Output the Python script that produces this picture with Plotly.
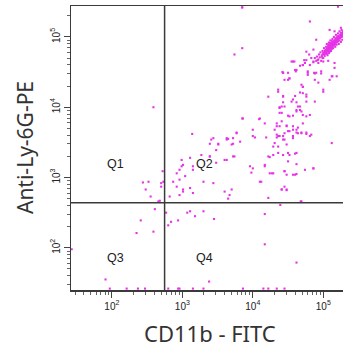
import numpy as np
import plotly.graph_objects as go

# Event positions (log10 of fluorescence intensity)
cluster_x = [4.86,4.88,4.90,4.91,4.93,4.94,4.95,4.96,4.97,4.98,4.99,5.00,5.00,5.01,5.02,5.02,5.03,5.04,5.04,5.05,
             5.05,5.06,5.06,5.07,5.07,5.08,5.08,5.09,5.09,5.10,5.10,5.11,5.11,5.12,5.12,5.13,5.13,5.14,5.14,5.15,
             5.15,5.16,5.16,5.17,5.17,5.18,5.18,5.19,5.19,5.20,5.20,5.21,5.21,5.22,5.22,5.23,5.23,5.24,5.24,5.25,
             5.25,5.26,5.26,5.27,5.27,5.28,5.28,5.08,5.10,5.12,5.06,5.14,5.11,5.09,5.13,5.16,5.07,5.15,5.18,5.03,
             5.05,5.19,5.21,5.17,5.12,5.10,5.08,
             5.02,5.04,5.06,5.08,5.10,5.12,5.14,5.16,5.18,5.20,5.22,5.24,5.26,5.00,5.03,5.07,5.11,5.15,5.19,5.23,
             5.27,5.05,5.09,5.13,5.17,5.21,5.25,4.98,5.01,5.09,5.13,5.17,5.21,5.25]
cluster_y = [4.64,4.70,4.66,4.72,4.68,4.75,4.71,4.78,4.66,4.74,4.80,4.70,4.77,4.84,4.73,4.80,4.76,4.86,4.82,4.78,
             4.90,4.74,4.84,4.80,4.88,4.92,4.77,4.85,4.82,4.88,4.95,4.80,4.91,4.86,4.83,4.97,4.89,4.93,4.84,4.88,
             5.00,4.91,4.95,4.86,4.98,4.92,5.03,4.89,4.96,5.00,4.93,5.05,4.97,4.90,5.01,4.95,5.08,5.03,4.98,5.06,
             4.93,5.00,5.10,5.04,4.96,5.08,5.01,4.86,4.84,4.90,4.81,4.90,4.87,4.79,4.85,4.88,4.84,4.94,4.96,4.79,
             4.83,4.99,5.01,4.93,4.94,4.91,4.89,
             4.78,4.80,4.82,4.83,4.86,4.88,4.90,4.93,4.94,4.97,4.98,5.00,5.03,4.76,4.81,4.86,4.89,4.91,4.93,4.99,
             5.06,4.76,4.81,4.92,4.90,4.94,5.02,4.72,4.75,4.91,4.87,4.95,4.99,5.01]

scatter_x = [3.85,4.81,3.85,3.74,2.59,4.86,4.76,4.71,4.62,4.55,4.43,4.50,4.36,4.43,4.57,4.41,4.67,4.76,4.71,4.88,
             5.00,5.12,4.90,4.78,5.16,4.62,4.52,4.48,4.57,4.64,4.71,4.81,4.43,4.34,4.36,4.45,4.29,4.62,4.52,4.43,
             4.22,4.17,4.45,4.60,4.86,4.27,4.10,3.96,4.00,4.10,3.86,5.12,4.41,4.48,4.22,4.38,4.69,4.76,
             3.14,3.41,3.51,3.63,3.70,3.77,3.82,2.99,3.11,3.39,3.48,3.63,3.72,2.99,3.04,3.15,3.30,3.44,2.87,2.92,
             3.01,3.11,3.15,2.96,2.82,3.60,3.70,3.67,2.72,2.73,3.39,3.51,3.65,3.72,3.27,3.39,3.48,3.60,3.74,3.01,
             2.96,3.15,2.92,2.96,3.01,3.65,2.68,3.98,4.12,4.00,4.24,4.17,4.24,4.29,4.36,4.50,4.60,4.62,4.50,4.29,
             4.45,4.48,4.57,4.62,4.74,4.86,4.41,4.48,4.45,4.22,4.69,4.34,4.31,4.36,4.43,4.45,4.52,4.62,4.69,4.76,
             4.83,4.57,4.48,4.57,4.74,4.81,4.86,4.93,5.00,5.07,5.16,4.67,4.60,4.43,4.50,4.78,4.88,4.97,5.19,4.45,
             4.52,4.69,4.71,4.93,5.09,4.36,4.67,4.71,4.76,4.60,4.43,5.00,4.55,4.62,4.76,4.88,4.43,4.38,4.45,4.64,
             4.67,4.62,4.38,4.41,4.50,4.57,4.71,4.81,3.85,4.09,4.17,4.34,4.41,4.48,4.57,4.64,4.38,4.31,4.50,4.62,
             4.69,3.77,4.00,4.03,4.38,4.57,4.76,3.44,3.63,3.72,4.19,4.34,
             2.44,2.52,2.48,2.55,2.66,2.70,2.70,
             5.09,5.16,5.25,4.90,4.76,4.80,4.73,4.59,4.71,4.42,4.61,4.78,4.87,4.97,5.13,4.52,4.83,4.92,4.99,
             5.21,3.85]
scatter_y = [5.42,5.22,4.84,4.75,4.00,4.82,4.67,4.60,4.53,4.65,4.49,4.39,4.25,4.15,4.11,4.01,4.01,4.15,4.29,4.39,
             4.25,4.44,4.49,4.46,4.56,3.96,3.87,3.73,3.68,3.63,3.77,3.59,3.59,3.73,3.59,3.54,3.44,3.35,3.32,3.32,
             3.30,3.16,3.09,3.04,3.13,3.06,2.94,3.16,3.59,3.84,3.84,3.49,2.83,2.83,4.15,3.99,3.94,3.87,
             3.62,3.54,3.47,3.54,3.47,3.63,3.51,3.25,3.28,3.30,3.39,3.25,3.30,3.16,3.02,3.16,2.94,2.92,2.94,2.87,
             2.83,2.85,2.78,2.75,2.73,2.80,2.83,2.75,3.09,2.94,3.48,3.48,3.55,3.48,3.32,3.30,3.21,3.25,3.30,3.18,
             3.11,3.11,3.06,2.97,2.80,2.70,2.67,3.07,2.94,3.13,3.06,3.18,3.29,3.32,3.35,3.35,3.34,3.19,3.23,3.06,
             3.09,3.04,3.04,3.05,3.11,3.13,2.83,2.82,2.87,2.71,2.66,3.61,3.49,3.44,3.54,3.63,3.66,3.64,3.63,3.62,
             3.61,3.56,3.47,4.65,4.63,4.60,4.65,4.63,4.65,4.66,4.63,4.59,4.53,4.49,4.49,4.49,4.48,4.48,4.44,4.39,
             4.41,4.32,4.29,4.35,4.39,4.22,4.21,4.20,4.18,4.16,4.16,4.22,4.08,4.07,4.08,4.08,4.07,4.00,4.01,4.01,
             3.96,3.94,3.92,3.92,3.88,3.88,3.89,3.89,3.84,3.83,3.77,3.77,3.80,3.74,3.73,3.71,3.73,3.68,3.66,3.68,
             3.64,3.64,3.68,3.57,3.59,3.59,3.64,3.56,3.56,3.56,3.57,3.57,
             2.93,2.94,2.83,2.73,2.66,2.92,2.87,
             5.10,5.08,5.13,4.96,4.79,4.75,4.67,4.65,4.60,4.50,4.51,4.51,4.49,4.51,4.44,4.41,4.70,4.67,4.70,
             5.43,5.42]

low_x = [2.61,2.41,2.35,2.59,1.43,1.91,2.77,2.84,2.80,2.94,3.07,3.11,3.18,3.30,3.45,4.17,4.39,4.68,4.17,4.62,3.38,
         1.97,2.21,2.37,2.47,2.80,2.94,2.96,3.15,3.30,3.86,4.15,4.22,4.34,4.45]
low_y = [2.55,2.39,2.21,2.23,1.98,1.55,2.50,2.37,2.32,2.39,2.50,2.52,2.45,2.52,2.41,2.48,2.61,2.66,2.05,1.79,1.52,
         1.42,1.42,1.42,1.42,1.42,1.42,1.42,1.42,1.42,1.42,1.42,1.42,1.42,1.42]

gate_cd11b = 560      # vertical quadrant gate
gate_ly6g = 437       # horizontal quadrant gate
x_range_log = [1.42, 5.28]
y_range_log = [1.40, 5.44]

tick_vals = [1e2, 1e3, 1e4, 1e5]
tick_text = ["10<sup>2</sup>", "10<sup>3</sup>", "10<sup>4</sup>", "10<sup>5</sup>"]
minor_vals = [m * 10 ** d for d in range(1, 6) for m in range(2, 10)]

all_x = np.power(10.0, np.array(cluster_x + scatter_x + low_x))
all_y = np.power(10.0, np.array(cluster_y + scatter_y + low_y))

fig = go.Figure()
fig.add_trace(go.Scatter(x=all_x, y=all_y, mode="markers",
                         marker=dict(color="#e633e6", size=2.1, symbol="square", line=dict(width=0)),
                         hoverinfo="skip", showlegend=False, cliponaxis=True))

line_col = "#3a3a3a"
fig.add_shape(type="line", xref="x", yref="paper", x0=gate_cd11b, x1=gate_cd11b, y0=0, y1=1,
              line=dict(color=line_col, width=1.5))
fig.add_shape(type="line", xref="paper", yref="y", x0=0, x1=1, y0=gate_ly6g, y1=gate_ly6g,
              line=dict(color=line_col, width=1.5))

qfont = dict(family="Liberation Sans, Arial", size=12.5, color="#222222")
for txt, qx, qy in [("Q1", 2.05, 3.19), ("Q2", 3.32, 3.19), ("Q3", 2.05, 1.85), ("Q4", 3.32, 1.85)]:
    fig.add_annotation(x=qx, y=qy, xref="x", yref="y", text=txt, showarrow=False, font=qfont)

tfont = dict(family="Noto Sans, Open Sans, sans-serif", size=21, color="#333333")
fig.add_annotation(x=-0.169, y=0.5, xref="paper", yref="paper", text="Anti-Ly-6G-PE",
                   textangle=-90, showarrow=False, font=tfont, xanchor="center", yanchor="middle")
fig.add_annotation(x=0.511, y=-0.151, xref="paper", yref="paper", text="CD11b - FITC",
                   showarrow=False, font=dict(family=tfont["family"], size=22, color="#333333"),
                   xanchor="center", yanchor="middle")

tickfont = dict(family="Liberation Sans, Arial", size=10, color="#222222")
fig.update_xaxes(type="log", range=x_range_log, tickvals=tick_vals, ticktext=tick_text, automargin=False,
                 ticks="outside", ticklen=6, tickwidth=1, tickcolor="#444", showgrid=False, zeroline=False,
                 showline=True, linecolor=line_col, linewidth=1.5, mirror=True, tickfont=tickfont,
                 minor=dict(tickvals=minor_vals, ticks="outside", ticklen=3, tickcolor="#666", showgrid=False))
fig.update_yaxes(type="log", range=y_range_log, tickvals=tick_vals, ticktext=tick_text, automargin=False,
                 ticks="outside", ticklen=6, tickwidth=1, tickcolor="#444", showgrid=False, zeroline=False,
                 showline=True, linecolor=line_col, linewidth=1.5, tickfont=tickfont, tickangle=-90,
                 minor=dict(tickvals=minor_vals, ticks="outside", ticklen=3, tickcolor="#666", showgrid=False))

fig.update_layout(width=343, height=354, margin=dict(l=71, r=0, t=6, b=64),
                  plot_bgcolor="white", paper_bgcolor="white")
fig.write_html("out.html", config={"displayModeBar": False, "staticPlot": True},
               post_script="document.body.style.margin='0px';document.body.style.overflow='hidden';")
